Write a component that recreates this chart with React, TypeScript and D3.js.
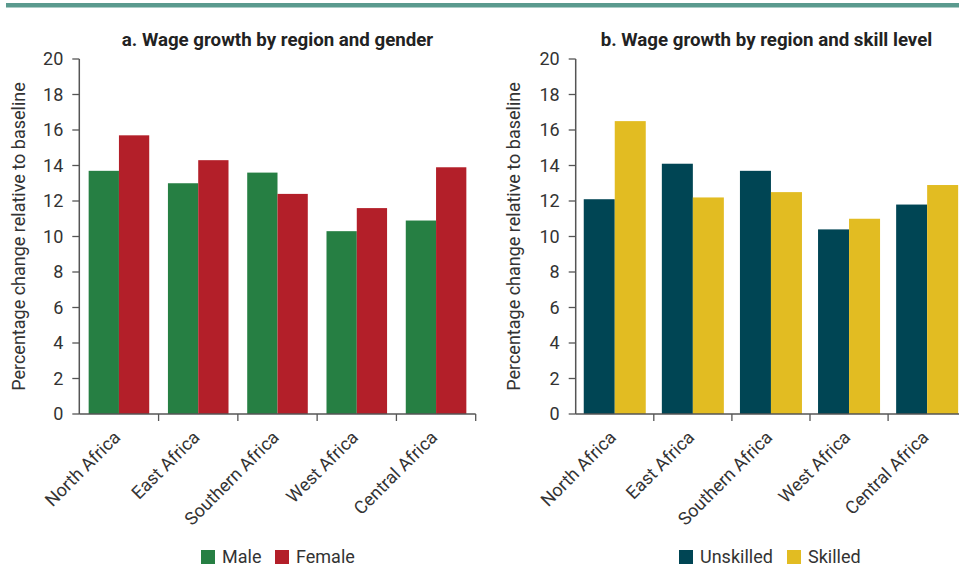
import React from "react";
import * as d3 from "d3";

const regions = ["North Africa", "East Africa", "Southern Africa", "West Africa", "Central Africa"];
const maleValues = [13.7, 13.0, 13.6, 10.3, 10.9];
const femaleValues = [15.7, 14.3, 12.4, 11.6, 13.9];
const unskilledValues = [12.1, 14.1, 13.7, 10.4, 11.8];
const skilledValues = [16.5, 12.2, 12.5, 11.0, 12.9];
const yTicks = [0, 2, 4, 6, 8, 10, 12, 14, 16, 18, 20];

const FONT = "Roboto, 'Open Sans', sans-serif";
const TEXT = "#333333";
const AXIS = "#555555";

type PanelProps = {
  title: string;
  titleX: number;
  x0: number;
  x1: number;
  yLabelX: number;
  seriesNames: [string, string];
  seriesA: number[];
  seriesB: number[];
  colors: [string, string];
  padInner: number;
  legendX: number;
  legendGap: number;
};

function Panel(p: PanelProps) {
  const y = d3.scaleLinear().domain([0, 20]).range([414, 59]);
  const xb = d3
    .scaleBand<string>()
    .domain(regions)
    .range([p.x0, p.x1])
    .paddingInner(p.padInner)
    .paddingOuter(p.padInner / 2);
  const xs = d3.scaleBand<string>().domain(["a", "b"]).range([0, xb.bandwidth()]);
  const step = xb.step();
  const boundaries = d3.range(1, regions.length + 1).map((i) => p.x0 + i * step);
  const series = [p.seriesA, p.seriesB];
  const keys = ["a", "b"];
  return (
    <g>
      <text x={p.titleX} y={46} textAnchor="middle" fontFamily={FONT} fontWeight={700} fontSize={18.7} fill="#222">
        {p.title}
      </text>
      <text
        transform={`translate(${p.yLabelX},${(y(0) + y(20)) / 2}) rotate(-90)`}
        textAnchor="middle"
        fontFamily={FONT}
        fontSize={18}
        fill={TEXT}
      >
        Percentage change relative to baseline
      </text>
      {regions.map((r, i) => (
        <g key={r}>
          {series.map((s, j) => (
            <rect
              key={j}
              x={(xb(r) as number) + (xs(keys[j]) as number)}
              y={y(s[i])}
              width={xs.bandwidth()}
              height={y(0) - y(s[i])}
              fill={p.colors[j]}
            />
          ))}
        </g>
      ))}
      {yTicks.map((t) => (
        <g key={t}>
          <line x1={p.x0 - 7} x2={p.x0} y1={y(t)} y2={y(t)} stroke={AXIS} strokeWidth={1.3} />
          <text x={p.x0 - 16} y={y(t)} dy="0.35em" textAnchor="end" fontFamily={FONT} fontSize={18} fill={TEXT}>
            {t}
          </text>
        </g>
      ))}
      <line x1={p.x0} x2={p.x0} y1={y(20)} y2={y(0)} stroke={AXIS} strokeWidth={1.5} />
      <line x1={p.x0} x2={p.x1} y1={y(0)} y2={y(0)} stroke={AXIS} strokeWidth={1.5} />
      {boundaries.map((bx, i) => (
        <line key={i} x1={bx} x2={bx} y1={y(0)} y2={y(0) + 7} stroke={AXIS} strokeWidth={1.3} />
      ))}
      {regions.map((r) => (
        <text
          key={r}
          transform={`translate(${(xb(r) as number) + xb.bandwidth() / 2 - 2},${y(0) + 20}) rotate(-45)`}
          textAnchor="end"
          dy="0.35em"
          fontFamily={FONT}
          fontSize={18}
          fill={TEXT}
        >
          {r}
        </text>
      ))}
      <g transform={`translate(${p.legendX},550)`}>
        <rect x={0} y={0} width={14} height={14} fill={p.colors[0]} />
        <text x={21} y={7} dy="0.36em" fontFamily={FONT} fontSize={18} fill={TEXT}>
          {p.seriesNames[0]}
        </text>
        <rect x={p.legendGap} y={0} width={14} height={14} fill={p.colors[1]} />
        <text x={p.legendGap + 21} y={7} dy="0.36em" fontFamily={FONT} fontSize={18} fill={TEXT}>
          {p.seriesNames[1]}
        </text>
      </g>
    </g>
  );
}

export default function App() {
  return (
    <svg
      width={959}
      height={568}
      style={{ position: "absolute", left: 0, top: 0, background: "#fff" }}
    >
      <rect x={6} y={3} width={953} height={4.5} fill="#5a9a8e" />
      <Panel
        title="a. Wage growth by region and gender"
        titleX={277.5}
        x0={79.3}
        x1={475.7}
        yLabelX={25}
        seriesNames={["Male", "Female"]}
        seriesA={maleValues}
        seriesB={femaleValues}
        colors={["#267f43", "#b31f29"]}
        padInner={0.236}
        legendX={201}
        legendGap={74}
      />
      <Panel
        title="b. Wage growth by region and skill level"
        titleX={766.5}
        x0={575.7}
        x1={966.2}
        yLabelX={520}
        seriesNames={["Unskilled", "Skilled"]}
        seriesA={unskilledValues}
        seriesB={skilledValues}
        colors={["#004554", "#e2bc22"]}
        padInner={0.206}
        legendX={679}
        legendGap={108}
      />
    </svg>
  );
}
